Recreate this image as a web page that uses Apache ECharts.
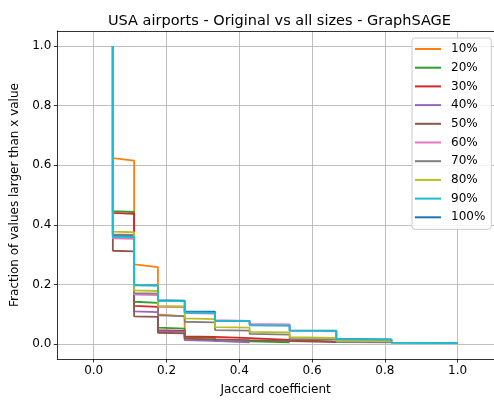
<!DOCTYPE html>
<html>
<head>
<meta charset="utf-8">
<script src="https://cdn.jsdelivr.net/npm/echarts@6/dist/echarts.min.js"></script>
<style>
html,body{margin:0;padding:0;background:#fff;}
#c{width:494px;height:401px;}
</style>
</head>
<body>
<div id="c"></div>
<script>
// Jaccard coefficient step positions (k/(20-k))
const xSteps = [0.0526, 0.1111, 0.1765, 0.25, 0.3333, 0.4286, 0.5385, 0.6667, 0.8182, 1.0];
const xTicks = [0.0, 0.2, 0.4, 0.6, 0.8, 1.0];
const yTicks = [0.0, 0.2, 0.4, 0.6, 0.8, 1.0];
const labels = ['10%', '20%', '30%', '40%', '50%', '60%', '70%', '80%', '90%', '100%'];
// y values along each curve: start, then (after drop, arrival at next step) pairs
const s10  = [1.0, 0.624, 0.615, 0.267, 0.258, 0.100, 0.093, 0.020, 0.012, 0.008];
const s20  = [1.0, 0.446, 0.443, 0.142, 0.138, 0.055, 0.052, 0.024, 0.021, 0.010, 0.009, 0.008, 0.006, 0.004];
const s30  = [1.0, 0.440, 0.437, 0.128, 0.125, 0.047, 0.044, 0.026, 0.024, 0.022, 0.020, 0.016, 0.014, 0.010, 0.008, 0.005];
const s40  = [1.0, 0.362, 0.360, 0.110, 0.107, 0.043, 0.041, 0.013, 0.011, 0.008, 0.006, 0.004];
const s50  = [1.0, 0.313, 0.311, 0.093, 0.091, 0.038, 0.036, 0.018, 0.016, 0.015, 0.013, 0.012, 0.010, 0.008, 0.007, 0.005];
const s60  = [1.0, 0.355, 0.353, 0.166, 0.164, 0.125, 0.123, 0.104, 0.102, 0.080, 0.078, 0.068, 0.066, 0.045, 0.043, 0.015, 0.013, 0.008];
const s70  = [1.0, 0.368, 0.366, 0.171, 0.169, 0.096, 0.094, 0.075, 0.073, 0.047, 0.045, 0.034, 0.032, 0.017, 0.016, 0.007, 0.006, 0.005];
const s80  = [1.0, 0.377, 0.375, 0.180, 0.178, 0.128, 0.126, 0.086, 0.084, 0.057, 0.055, 0.041, 0.039, 0.023, 0.021, 0.011, 0.010, 0.007];
const s90  = [1.0, 0.360, 0.359, 0.197, 0.196, 0.145, 0.144, 0.106, 0.105, 0.079, 0.078, 0.063, 0.062, 0.045, 0.044, 0.016, 0.015, 0.005, 0.004, 0.003];
const s100 = [1.0, 0.365, 0.364, 0.198, 0.197, 0.147, 0.146, 0.110, 0.109, 0.078, 0.077, 0.064, 0.063, 0.046, 0.045, 0.017, 0.016, 0.005, 0.004, 0.003];

const colors = {
  '10%': '#ff7f0e', '20%': '#2ca02c', '30%': '#d62728', '40%': '#9467bd', '50%': '#8c564b',
  '60%': '#e377c2', '70%': '#7f7f7f', '80%': '#bcbd22', '90%': '#17becf', '100%': '#1f77b4'
};
const seriesY = {'10%': s10, '20%': s20, '30%': s30, '40%': s40, '50%': s50,
  '60%': s60, '70%': s70, '80%': s80, '90%': s90, '100%': s100};

function toPoints(ys) {
  return ys.map((y, j) => [xSteps[Math.floor(j / 2)], y]);
}
// draw order: 100% first (bottom), then 10%..90%
const drawOrder = ['100%', '10%', '20%', '30%', '40%', '50%', '60%', '70%', '80%', '90%'];
const FONT = 'DejaVu Sans';

const series = drawOrder.map(name => ({
  name: name,
  type: 'line',
  data: toPoints(seriesY[name]),
  showSymbol: false,
  symbol: 'none',
  color: colors[name],
  lineStyle: {width: 1.8, color: colors[name]},
  animation: false,
  z: 3
}));

const chart = echarts.init(document.getElementById('c'), null, {renderer: 'canvas'});
chart.setOption({
  backgroundColor: '#fff',
  animation: false,
  title: {
    text: 'USA airports - Original vs all sizes - GraphSAGE',
    left: 103, top: 9,
    textStyle: {fontFamily: FONT, fontSize: 14.5, fontWeight: 'normal', color: '#000'}
  },
  grid: {left: 57.3, top: 31, width: 439.4, height: 329.7, containLabel: false},
  legend: {
    data: labels,
    orient: 'vertical',
    left: 412, top: 38,
    icon: 'rect',
    itemWidth: 26, itemHeight: 2,
    itemGap: 4.7,
    padding: [4, 6, 5, 3],
    backgroundColor: 'rgba(255,255,255,0.8)',
    borderColor: '#cccccc', borderWidth: 1, borderRadius: 3,
    textStyle: {fontFamily: FONT, fontSize: 12, color: '#000', lineHeight: 14, padding: [0, 0, 0, 5]}
  },
  xAxis: [{
    type: 'value', min: -0.1, max: 1.1,
    name: 'Jaccard coefficient', nameLocation: 'middle', nameGap: 25,
    nameTextStyle: {fontFamily: FONT, fontSize: 12, color: '#000'},
    axisLine: {show: true, onZero: false, lineStyle: {color: '#000', width: 0.8}},
    axisTick: {show: true, length: 3.5, inside: false, customValues: xTicks, lineStyle: {color: '#000', width: 0.8}},
    axisLabel: {customValues: xTicks, margin: 6, fontFamily: FONT, fontSize: 12, color: '#000',
      formatter: v => v.toFixed(1)},
    splitLine: {show: true, lineStyle: {color: '#b0b0b0', width: 0.8}}
  }, {
    type: 'value', min: -0.1, max: 1.1, position: 'top',
    axisLine: {show: true, onZero: false, lineStyle: {color: '#000', width: 0.8}},
    axisTick: {show: false}, axisLabel: {show: false}, splitLine: {show: false}
  }],
  yAxis: [{
    type: 'value', min: -0.05, max: 1.05,
    name: 'Fraction of values larger than x value', nameLocation: 'middle', nameGap: 32,
    nameTextStyle: {fontFamily: FONT, fontSize: 12, color: '#000'},
    axisLine: {show: true, onZero: false, lineStyle: {color: '#000', width: 0.8}},
    axisTick: {show: true, length: 3.5, inside: false, customValues: yTicks, lineStyle: {color: '#000', width: 0.8}},
    axisLabel: {customValues: yTicks, margin: 6, fontFamily: FONT, fontSize: 12, color: '#000',
      formatter: v => v.toFixed(1)},
    splitLine: {show: true, lineStyle: {color: '#b0b0b0', width: 0.8}}
  }],
  series: series
});
</script>
</body>
</html>
